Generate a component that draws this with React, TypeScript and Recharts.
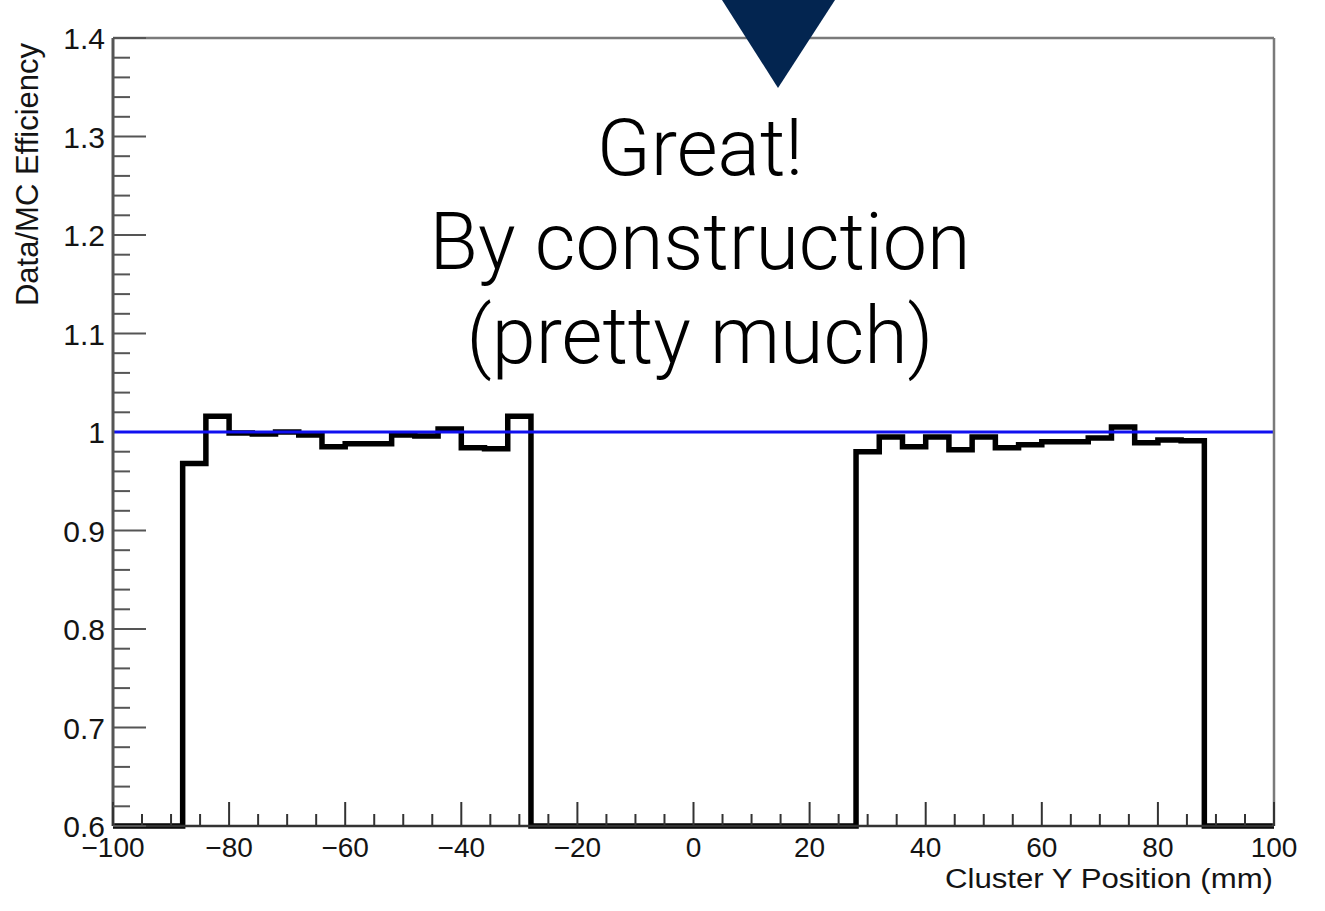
import { Line, LineChart, ReferenceLine, XAxis, YAxis } from "recharts";

const WIDTH = 1325;
const HEIGHT = 911;

const X_RANGE: [number, number] = [-100, 100];
const Y_RANGE: [number, number] = [0.6, 1.4];
const BIN_WIDTH = 4;
const UNITY = 1;

// Data/MC efficiency ratio, one value per 4 mm bin from -100 to 100 (empty bins are 0)
const ratio = [
  0, 0, 0,
  0.968, 1.016, 0.999, 0.998, 1.0, 0.997, 0.985, 0.988, 0.988, 0.997, 0.996, 1.003, 0.984, 0.983, 1.016,
  0, 0, 0, 0, 0, 0, 0, 0, 0, 0, 0, 0, 0, 0,
  0.98, 0.995, 0.985, 0.995, 0.982, 0.995, 0.984, 0.987, 0.99, 0.99, 0.994, 1.005, 0.989, 0.992, 0.991,
  0, 0, 0,
];

// ROOT style divisions: labelled majors, minor ticks in between
const xTicks = Array.from({ length: 41 }, (_, i) => -100 + i * 5);
const yTicks = Array.from({ length: 41 }, (_, i) => +(0.6 + i * 0.02).toFixed(2));
const isMajorX = (v: number) => v % 20 === 0;
const isMajorY = (v: number) => Math.round(v * 100) % 10 === 0;

const annotation = ["Great!", "By construction", "(pretty much)"];

// step points at each bin's low edge, plus the closing edge; empty bins sit on the frame like ROOT does
const rows = [
  ...ratio.map((v, i) => ({ pos: X_RANGE[0] + i * BIN_WIDTH, ratio: Math.max(v, Y_RANGE[0]) })),
  { pos: X_RANGE[1], ratio: Math.max(ratio[ratio.length - 1], Y_RANGE[0]) },
];

const AXIS_FONT = "'Liberation Sans', Arial, Helvetica, sans-serif";
const TEXT_COLOR = "#141414";

const fmtX = (v: number) => String(v).replace("-", "\u2212");
const fmtY = (v: number) => String(+v.toFixed(1));

// ticks point into the frame, labels sit outside
function XTick(props: any) {
  const { x, y, payload } = props;
  const major = isMajorX(payload.value);
  return (
    <g>
      <line x1={x} x2={x} y1={y} y2={y - (major ? 24 : 12)} stroke="#333" strokeWidth={2} />
      {major && (
        <text x={x} y={y + 31} textAnchor="middle" fontSize={28} fontFamily={AXIS_FONT} fill={TEXT_COLOR}>
          {fmtX(payload.value)}
        </text>
      )}
    </g>
  );
}

function YTick(props: any) {
  const { x, y, payload } = props;
  const major = isMajorY(payload.value);
  // the unity line runs over this tick, so leave it out
  const underUnity = payload.value === UNITY;
  return (
    <g>
      {!underUnity && (
        <line x1={x} x2={x + (major ? 33 : 17)} y1={y} y2={y} stroke="#555" strokeWidth={2} />
      )}
      {major && (
        <text x={x - 8} y={y + 11} textAnchor="end" fontSize={30} fontFamily={AXIS_FONT} fill={TEXT_COLOR}>
          {fmtY(payload.value)}
        </text>
      )}
    </g>
  );
}

export default function App() {
  return (
    <div style={{ position: "absolute", left: 0, top: 0, width: WIDTH, height: HEIGHT, background: "#fff" }}>
      <LineChart
        width={WIDTH}
        height={HEIGHT}
        data={rows}
        margin={{ top: 37, right: 50, bottom: 84, left: 112 }}
      >
        <XAxis
          xAxisId="main"
          dataKey="pos"
          type="number"
          domain={X_RANGE}
          ticks={xTicks}
          interval={0}
          height={1}
          tickSize={0}
          tickMargin={0}
          tickLine={false}
          axisLine={{ stroke: "#333", strokeWidth: 2.5 }}
          tick={(p: any) => <XTick {...p} />}
        />
        <XAxis
          xAxisId="top"
          orientation="top"
          dataKey="pos"
          type="number"
          domain={X_RANGE}
          height={1}
          tick={false}
          tickLine={false}
          axisLine={{ stroke: "#7a7a7a", strokeWidth: 2.5 }}
        />
        <YAxis
          yAxisId="main"
          type="number"
          domain={Y_RANGE}
          ticks={yTicks}
          interval={0}
          width={1}
          tickSize={0}
          tickMargin={0}
          tickLine={false}
          axisLine={{ stroke: "#555", strokeWidth: 3 }}
          tick={(p: any) => <YTick {...p} />}
        />
        <YAxis
          yAxisId="right"
          orientation="right"
          type="number"
          domain={Y_RANGE}
          width={1}
          tick={false}
          tickLine={false}
          axisLine={{ stroke: "#7a7a7a", strokeWidth: 2.5 }}
        />
        <Line
          xAxisId="main"
          yAxisId="main"
          dataKey="ratio"
          type="stepAfter"
          stroke="#000"
          strokeWidth={5.5}
          dot={false}
          activeDot={false}
          isAnimationActive={false}
        />
        <ReferenceLine xAxisId="main" yAxisId="main" y={UNITY} stroke="#1010f0" strokeWidth={3} />
      </LineChart>

      <svg
        width={WIDTH}
        height={HEIGHT}
        style={{ position: "absolute", left: 0, top: 0, pointerEvents: "none" }}
      >
        <polygon points="722,0 835,0 778,88" fill="#032550" />
        <g fontFamily="Roboto, 'Open Sans', sans-serif" fontWeight={300} fontSize={79} fill="#000" textAnchor="middle">
          {annotation.map((line, i) => (
            <text key={line} x={700} y={175 + i * 94}>
              {line}
            </text>
          ))}
        </g>
        <text
          transform="translate(38, 43) rotate(-90)"
          textAnchor="end"
          fontFamily={AXIS_FONT}
          fontSize={31}
          fill={TEXT_COLOR}
        >
          Data/MC Efficiency
        </text>
        <text
          x={1273}
          y={888}
          textAnchor="end"
          fontFamily={AXIS_FONT}
          fontSize={27}
          textLength={328}
          lengthAdjust="spacingAndGlyphs"
          fill={TEXT_COLOR}
        >
          Cluster Y Position (mm)
        </text>
      </svg>
    </div>
  );
}
